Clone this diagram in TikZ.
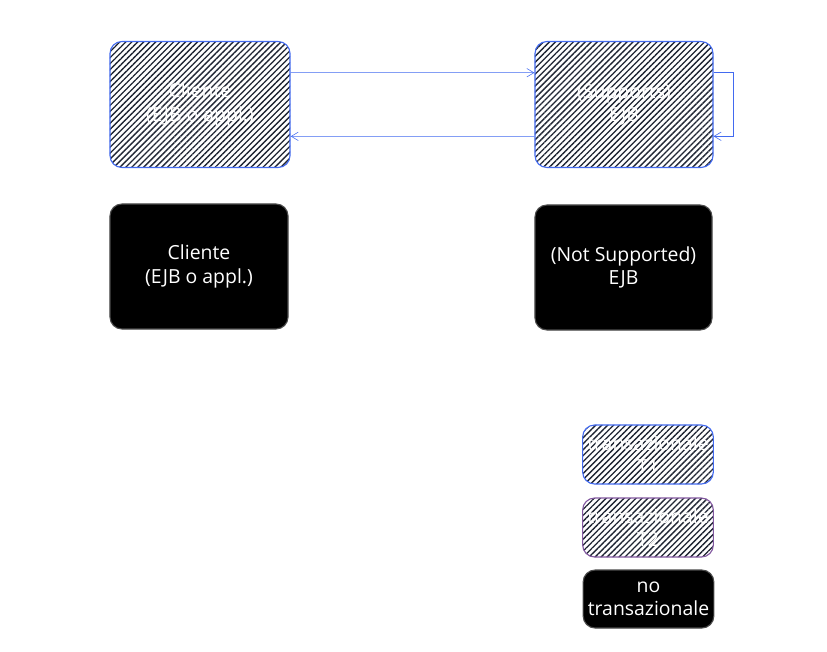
\documentclass[tikz,border=0pt]{standalone}
\usepackage{fontspec}
\setmainfont{Open Sans}
\usepackage{tikz}
\usetikzlibrary{arrows.meta,patterns.meta,calc}
\definecolor{txblue}{RGB}{66,106,240}
\definecolor{txpurple}{RGB}{130,88,160}
\definecolor{hatch}{RGB}{30,36,50}

\tikzset{
  box/.style={draw, line width=0.8pt, rounded corners=0.3cm, align=center, text=white,
    font=\fontsize{13.8}{16.5}\selectfont},
  tbox/.style={box, pattern={Lines[angle=45,distance=3pt,line width=0.95pt]}, pattern color=hatch},
  nobox/.style={box, fill=black, draw=black!70},
  link/.style={draw=txblue, -{Straight Barb[length=5pt,width=6pt]}}
}

\begin{document}
\begin{tikzpicture}[x=0.025cm,y=-0.025cm]
            \useasboundingbox (0,0) rectangle (827,651);

            % Transactional row
            \node[tbox, draw=txblue, minimum width=4.5cm, minimum height=3.15cm] (cli) at (200,104.5) {Cliente\\(EJB o appl.)};
            \node[tbox, draw=txblue, minimum width=4.45cm, minimum height=3.15cm] (ejb) at (624,104.5) {(Supports)\\EJB};

            % Calls
            \coordinate (cliup) at ($(cli.north east)!0.25!(cli.south east)$);
            \coordinate (clidn) at ($(cli.north east)!0.75!(cli.south east)$);
            \coordinate (ejbin) at ($(ejb.north west)!0.25!(ejb.south west)$);
            \coordinate (ejbout) at ($(ejb.north west)!0.75!(ejb.south west)$);
            \coordinate (ejbup) at ($(ejb.north east)!0.25!(ejb.south east)$);
            \coordinate (ejbdn) at ($(ejb.north east)!0.75!(ejb.south east)$);
            \draw[link] (cliup) -- (ejbin);
            \draw[link] (ejbout) -- (clidn);
            \draw[link] (ejbup) -- ++(20,0) |- (ejbdn);

            % Non-transactional row
            \node[nobox, minimum width=4.45cm, minimum height=3.125cm] (cli2) at (199,266.5) {Cliente\\(EJB o appl.)};
            \node[nobox, minimum width=4.425cm, minimum height=3.125cm] (ejb2) at (623.5,267.5) {(Not Supported)\\EJB};

            % Legend
            \node[tbox, draw=txblue, minimum width=3.25cm, minimum height=1.475cm] (leg1) at (648,454.5) {transazionale\\T1};
            \node[tbox, draw=txpurple, minimum width=3.25cm, minimum height=1.475cm] (leg2) at (648,527.5) {transazionale\\T2};
            \node[nobox, minimum width=3.175cm, minimum height=1.45cm] (leg3) at (648.5,599) {no\\transazionale};
        \end{tikzpicture}
\end{document}
